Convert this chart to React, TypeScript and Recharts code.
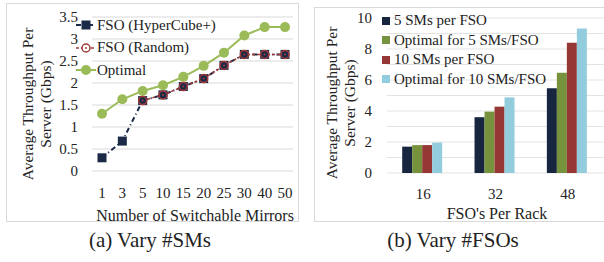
import React from "react";
import {
  Bar,
  BarChart,
  CartesianGrid,
  Line,
  LineChart,
  XAxis,
  YAxis,
} from "recharts";

const mirrors = ["1", "3", "5", "10", "15", "20", "25", "30", "40", "50"];
const hyperCube = [0.3, 0.68, 1.6, 1.73, 1.92, 2.1, 2.4, 2.65, 2.65, 2.65];
const randomFso = [null, null, 1.6, 1.73, 1.92, 2.1, 2.4, 2.65, 2.65, 2.65];
const optimal = [1.3, 1.63, 1.82, 1.95, 2.14, 2.39, 2.69, 3.08, 3.27, 3.27];
const leftTicks = [0, 0.5, 1, 1.5, 2, 2.5, 3, 3.5];

const racks = ["16", "32", "48"];
const sm5 = [1.7, 3.6, 5.46];
const opt5 = [1.8, 3.96, 6.47];
const sm10 = [1.8, 4.28, 8.4];
const opt10 = [1.96, 4.88, 9.33];
const rightTicks = [0, 1, 2, 3, 4, 5, 6, 7, 8, 9, 10];

const lineData = mirrors.map((m, i) => ({
  m,
  hyper: hyperCube[i],
  rnd: randomFso[i],
  opt: optimal[i],
}));

const barData = racks.map((r, i) => ({
  r,
  sm5: sm5[i],
  opt5: opt5[i],
  sm10: sm10[i],
  opt10: opt10[i],
}));

const FONT = "'Liberation Serif', 'Times New Roman', serif";
const NAVY = "#1b2a47";
const RED = "#a33a3a";
const LGREEN = "#9bbb59";

const tickStyle = { fill: "#222", fontSize: 15, fontFamily: FONT };

const SquareDot = (p: any) =>
  p.cx == null ? null : (
    <rect key={p.index} x={p.cx - 4.5} y={p.cy - 4.5} width={9} height={9} fill={NAVY} />
  );

const RingDot = (p: any) =>
  p.cx == null || p.value == null ? null : (
    <g key={p.index}>
      <circle cx={p.cx} cy={p.cy} r={4} fill="none" stroke={RED} strokeWidth={1.5} />
      <circle cx={p.cx} cy={p.cy} r={1} fill={RED} />
    </g>
  );

const GreenDot = (p: any) =>
  p.cx == null ? null : <circle key={p.index} cx={p.cx} cy={p.cy} r={5} fill={LGREEN} />;

function LineLegend() {
  const rows = [
    { label: "FSO (HyperCube+)", kind: "sq" },
    { label: "FSO (Random)", kind: "ring" },
    { label: "Optimal", kind: "opt" },
  ];
  return (
    <div style={{ position: "absolute", left: 76, top: 14, fontFamily: FONT, fontSize: 15, color: "#222" }}>
      {rows.map((r) => (
        <div key={r.label} style={{ display: "flex", alignItems: "center", height: 22.5 }}>
          <svg width={20} height={14} style={{ marginRight: 1 }}>
            {r.kind === "sq" && (
              <>
                <line x1={0} y1={7} x2={20} y2={7} stroke={NAVY} strokeWidth={2} strokeDasharray="5 3 1 3" />
                <rect x={5.5} y={2.5} width={9} height={9} fill={NAVY} />
              </>
            )}
            {r.kind === "ring" && (
              <>
                <line x1={0} y1={7} x2={20} y2={7} stroke={RED} strokeWidth={1.5} strokeDasharray="3 2" />
                <circle cx={10} cy={7} r={4} fill="white" stroke={RED} strokeWidth={1.5} />
                <circle cx={10} cy={7} r={1} fill={RED} />
              </>
            )}
            {r.kind === "opt" && (
              <>
                <line x1={0} y1={7} x2={20} y2={7} stroke={LGREEN} strokeWidth={2} />
                <circle cx={10} cy={7} r={5} fill={LGREEN} />
              </>
            )}
          </svg>
          <span style={{ lineHeight: "15px" }}>{r.label}</span>
        </div>
      ))}
    </div>
  );
}

const barSeries = [
  { key: "sm5", label: "5 SMs per FSO", color: "#17253f" },
  { key: "opt5", label: "Optimal for 5 SMs/FSO", color: "#76923c" },
  { key: "sm10", label: "10 SMs per FSO", color: "#953735" },
  { key: "opt10", label: "Optimal for 10 SMs/FSO", color: "#93cddd" },
];

function BarLegend() {
  return (
    <div style={{ position: "absolute", left: 382, top: 11, fontFamily: FONT, fontSize: 15, color: "#222" }}>
      {barSeries.map((s) => (
        <div key={s.key} style={{ display: "flex", alignItems: "center", height: 19.5 }}>
          <span style={{ width: 8, height: 8, background: s.color, marginRight: 4 }} />
          <span style={{ lineHeight: "15px" }}>{s.label}</span>
        </div>
      ))}
    </div>
  );
}

function YTitle({ x, y }: { x: number; y: number }) {
  return (
    <svg
      width={60}
      height={220}
      style={{ position: "absolute", left: x, top: y - 110, overflow: "visible" }}
    >
      <g transform="translate(0,110) rotate(-90)" fontFamily={FONT} fontSize={15.5} fill="#222">
        <text x={0} y={15} textAnchor="middle" dominantBaseline="central">
          Average Throughput Per
        </text>
        <text x={0} y={33} textAnchor="middle" dominantBaseline="central">
          Server (Gbps)
        </text>
      </g>
    </svg>
  );
}

const textDiv = (left: number, top: number, width: number, size: number): React.CSSProperties => ({
  position: "absolute",
  left,
  top,
  width,
  textAlign: "center",
  fontFamily: FONT,
  fontSize: size,
  color: "#222",
  lineHeight: `${size}px`,
  whiteSpace: "nowrap",
});

export default function App() {
  return (
    <div style={{ position: "relative", width: 604, height: 262, background: "white", overflow: "hidden" }}>
      <style>{"body{margin:0}"}</style>
      {/* panel frames */}
      <div style={{ position: "absolute", left: 6, top: 3, width: 293, height: 219, border: "1px solid #d9d9d9", boxSizing: "border-box" }} />
      <div style={{ position: "absolute", left: 314, top: 7, width: 300, height: 215, border: "1px solid #d9d9d9", boxSizing: "border-box" }} />

      <div style={{ position: "absolute", left: 0, top: 0 }}>
        <LineChart
          width={300}
          height={225}
          data={lineData}
          margin={{ top: 17, right: 7, bottom: 24, left: 32 }}
        >
          <CartesianGrid vertical={false} stroke="#d9d9d9" />
          <XAxis
            dataKey="m"
            height={30}
            axisLine={false}
            tickLine={false}
            tickSize={0}
            tickMargin={16}
            interval={0}
            padding={{ left: 10, right: 8 }}
            tick={tickStyle}
          />
          <YAxis
            width={60}
            domain={[0, 3.5]}
            ticks={leftTicks}
            interval={0}
            axisLine={false}
            tickLine={false}
            tickSize={0}
            tickMargin={14}
            tick={tickStyle}
          />
          <Line
            dataKey="opt"
            stroke={LGREEN}
            strokeWidth={2}
            dot={GreenDot}
            isAnimationActive={false}
          />
          <Line
            dataKey="hyper"
            stroke={NAVY}
            strokeWidth={2}
            strokeDasharray="5 3 1 3"
            dot={SquareDot}
            isAnimationActive={false}
          />
          <Line
            dataKey="rnd"
            stroke={RED}
            strokeWidth={1.5}
            strokeDasharray="3 2"
            dot={RingDot}
            isAnimationActive={false}
          />
        </LineChart>
      </div>

      <div style={{ position: "absolute", left: 300, top: 0 }}>
        <BarChart
          width={304}
          height={225}
          data={barData}
          margin={{ top: 18, right: 0, bottom: 22, left: 27 }}
          barCategoryGap="21%"
          barGap={0}
        >
          <CartesianGrid vertical={false} stroke="#e3e3e3" />
          <XAxis
            dataKey="r"
            height={30}
            axisLine={false}
            tickLine={false}
            tickSize={0}
            tickMargin={15}
            tick={tickStyle}
          />
          <YAxis
            width={60}
            domain={[0, 10]}
            ticks={rightTicks}
            interval={0}
            tickFormatter={(v: number) => (v % 2 === 0 ? String(v) : "")}
            axisLine={false}
            tickLine={false}
            tickSize={0}
            tickMargin={15}
            tick={tickStyle}
          />
          {barSeries.map((s) => (
            <Bar key={s.key} dataKey={s.key} fill={s.color} isAnimationActive={false} />
          ))}
        </BarChart>
      </div>

      <LineLegend />
      <BarLegend />
      <YTitle x={12} y={104} />
      <YTitle x={316} y={103} />
      <div style={textDiv(88, 208, 214, 16)}>Number of Switchable Mirrors</div>
      <div style={textDiv(397, 206, 200, 16)}>FSO's Per Rack</div>
      <div style={textDiv(50, 230, 200, 21)}>(a) Vary #SMs</div>
      <div style={textDiv(353, 230, 200, 21)}>(b) Vary #FSOs</div>
    </div>
  );
}
